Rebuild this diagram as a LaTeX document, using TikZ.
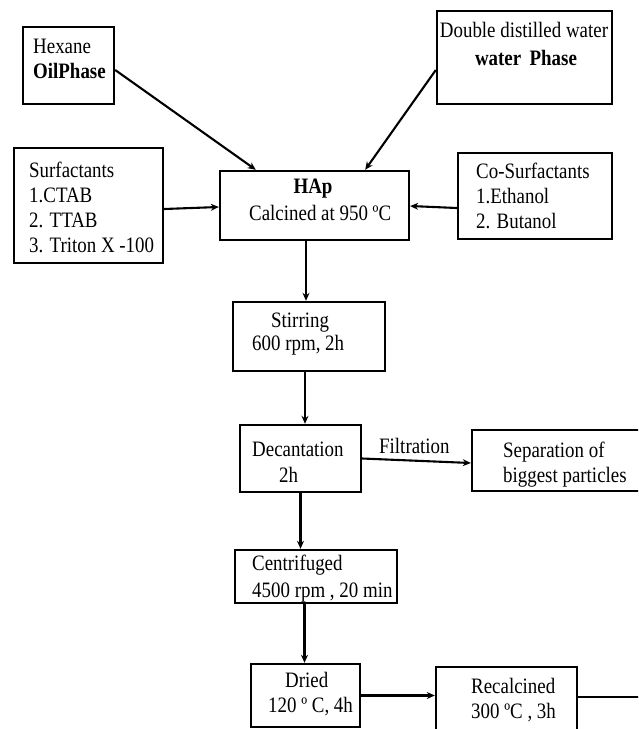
\documentclass[tikz,border=0pt]{standalone}
\usepackage{fontspec}
\setmainfont{Liberation Serif}[FakeStretch=0.86]
\usetikzlibrary{arrows.meta}
\tikzset{
  box/.style={draw=black, line width=2.4pt, rectangle, inner sep=0pt, fill=white},
  arr/.style={draw=black, line width=2.1pt, -{Stealth[length=8pt,width=7pt]}},
  plain/.style={draw=black, line width=2.1pt},
  txt/.style={anchor=base west, inner sep=0pt, font=\fontsize{22}{26}\selectfont},
  ctxt/.style={anchor=base, inner sep=0pt, font=\fontsize{22}{26}\selectfont}
}
\begin{document}
\begin{tikzpicture}[x=1pt,y=-1pt]
\useasboundingbox (0,0) rectangle (638,729);
\clip (0,0) rectangle (638,729);
\fill[white] (0,0) rectangle (638,729);
% boxes
\node[box, minimum width=91pt, minimum height=77pt] (hex) at (68.5,65.5) {};
\node[box, minimum width=175pt, minimum height=93pt] (dw) at (524.5,57.5) {};
\node[box, minimum width=149pt, minimum height=115pt] (surf) at (88.5,205.5) {};
\node[box, minimum width=189pt, minimum height=69pt] (hap) at (314.5,205.5) {};
\node[box, minimum width=154pt, minimum height=86pt] (co) at (535,196) {};
\node[box, minimum width=152pt, minimum height=69pt] (stir) at (309,336.5) {};
\node[box, minimum width=121pt, minimum height=67pt] (dec) at (300.5,458.5) {};
\node[box, minimum width=178pt, minimum height=61pt] (sep) at (561,460.5) {};
\node[box, minimum width=162pt, minimum height=53pt] (cen) at (316,576.5) {};
\node[box, minimum width=109pt, minimum height=63pt] (dried) at (305.5,695.5) {};
\node[box, minimum width=141pt, minimum height=78pt] (rec) at (506.5,706) {};
% texts
\node[txt] (t1) at (33,53) {Hexane};
\node[txt] (t2) at (33,78) {\bfseries OilPhase};
\node[ctxt] (t3) at (524,37) {Double distilled water};
\node[ctxt] (t4) at (526,65) {\bfseries water\, Phase};
\node[txt] (t5) at (29,177) {Surfactants};
\node[txt] (t6) at (29,202) {1.CTAB};
\node[txt] (t7) at (29,227) {2. TTAB};
\node[txt] (t8) at (29,252) {3. Triton X -100};
\node[ctxt] (t9) at (313,193) {\bfseries HAp};
\node[txt] (t10) at (249,220) {Calcined at 950 ºC};
\node[txt] (t11) at (476,178) {Co-Surfactants};
\node[txt] (t12) at (476,203) {1.Ethanol};
\node[txt] (t13) at (476,228) {2. Butanol};
\node[txt] (t14) at (271,327) {Stirring};
\node[txt] (t15) at (252,350) {600 rpm, 2h};
\node[txt] (t16) at (252,456) {Decantation};
\node[txt] (t17) at (279,482) {2h};
\node[txt] (t18) at (379,453) {Filtration};
\node[txt] (t19) at (503,457) {Separation of};
\node[txt] (t20) at (503,482) {biggest particles};
\node[txt] (t21) at (252,570) {Centrifuged};
\node[txt] (t22) at (252,597) {4500 rpm , 20 min};
\node[txt] (t23) at (285,687) {Dried};
\node[txt] (t24) at (268,712) {120 º C, 4h};
\node[txt] (t25) at (471,693) {Recalcined};
\node[txt] (t26) at (471,718) {300 ºC , 3h};
% connectors
\draw[arr] ([yshift=-4.5pt]hex.east) -- ([xshift=37pt]hap.north west);
\draw[arr] ([yshift=-12.5pt]dw.west) -- ([xshift=-45pt]hap.north east);
\draw[arr] ([yshift=-3.5pt]surf.east) -- ([yshift=-1.5pt]hap.west);
\draw[arr] ([yshift=-12pt]co.west) -- ([yshift=-0.5pt]hap.east);
\draw[arr] ([xshift=-3pt]stir.north |- hap.south) -- ([xshift=-3pt]stir.north);
\draw[arr] ([xshift=-4pt]stir.south) -- ([xshift=-4pt]stir.south |- dec.north);
\draw[arr] (dec.east) -- ([yshift=-2.5pt]sep.west);
\draw[arr] (dec.south) -- (dec.south |- cen.north);
\draw[arr] ([xshift=-1pt]dried.north |- cen.south) -- ([xshift=-1pt]dried.north);
\draw[arr] (dried.east) -- (dried.east -| rec.west);
\coordinate (outr) at (650,697);
\draw[plain] (rec.east |- outr) -- (outr);
\end{tikzpicture}
\end{document}
